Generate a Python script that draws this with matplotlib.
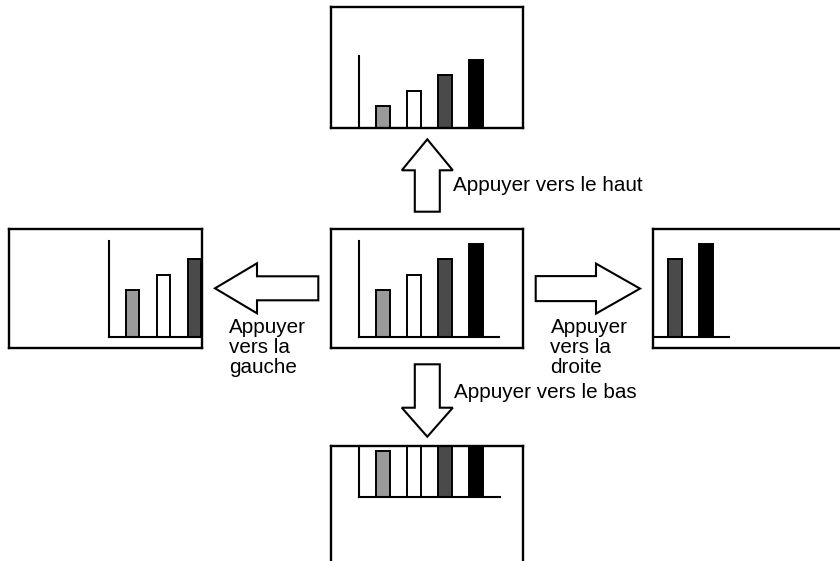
import matplotlib
matplotlib.use("Agg")
import matplotlib.pyplot as plt
from matplotlib.patches import FancyArrow

# ---- data ----
bar_pos = [1, 2, 3, 4]
bar_values = [3, 4, 5, 6]
bar_colors = ["#9a9a9a", "#ffffff", "#4a4a4a", "#000000"]
axis_top = 6.2
axis_x = [0.23, 4.75]

labels_up = "Appuyer vers le haut"
labels_down = "Appuyer vers le bas"
labels_left = ["Appuyer", "vers la", "gauche"]
labels_right = ["Appuyer", "vers la", "droite"]

W, H = 840, 561
PX_X = 31.0   # px per x unit
PX_Y = 15.5   # px per value unit

fig = plt.figure(figsize=(W / 100, H / 100), dpi=100)
canvas = fig.add_axes([0, 0, 1, 1])
canvas.set_xlim(0, W)
canvas.set_ylim(H, 0)
canvas.axis("off")


def panel(left, top, w, h, bar1x, basey, hide_right=False, hide_bottom=False):
    ax = fig.add_axes([left / W, 1 - (top + h) / H, w / W, h / H])
    ax.set_xlim(1 - (bar1x - left) / PX_X, 1 + (left + w - bar1x) / PX_X)
    ax.set_ylim(-(top + h - basey) / PX_Y, (basey - top) / PX_Y)
    ax.bar(bar_pos, bar_values, width=0.45, color=bar_colors,
           edgecolor="black", linewidth=1.4, zorder=2)
    ax.plot([axis_x[0], axis_x[0]], [0, axis_top], color="black", lw=1.5, zorder=3)
    ax.plot(axis_x, [0, 0], color="black", lw=1.5, zorder=3)
    ax.set_xticks([])
    ax.set_yticks([])
    for s in ax.spines.values():
        s.set_linewidth(1.7)
        s.set_zorder(5)
    if hide_right:
        ax.spines["right"].set_visible(False)
    if hide_bottom:
        ax.spines["bottom"].set_visible(False)
    return ax


panel(331, 229, 192, 119, 383.2, 336.7)                     # centre
panel(331, 7, 192, 121, 383.2, 152.5)                       # haut
panel(9, 229, 193, 119, 132.5, 336.7)                       # gauche
panel(653, 229, 192, 119, 612.8, 336.7, hide_right=True)    # droite
panel(331, 446, 192, 119, 383.3, 497.3, hide_bottom=True)   # bas


def arrow(x0, y0, x1, y1, shaft, head, head_len):
    canvas.add_patch(FancyArrow(x0, y0, x1 - x0, y1 - y0, width=shaft,
                                head_width=head, head_length=head_len,
                                length_includes_head=True, facecolor="white",
                                edgecolor="black", linewidth=1.5))


arrow(427.3, 211.7, 427.3, 139.3, 25, 51, 31)    # up
arrow(427.3, 364.3, 427.3, 436.7, 25, 51, 29)    # down
arrow(318.3, 288.3, 215, 288.3, 24, 50, 42)      # left
arrow(535.7, 288.6, 640, 288.6, 25, 50, 44)      # right

font = dict(family=["Liberation Sans", "DejaVu Sans"], fontsize=14.9, color="black")
canvas.text(453.3, 190.7, labels_up, va="baseline", ha="left", **font)
canvas.text(454.0, 397.7, labels_down, va="baseline", ha="left", **font)
for i, line in enumerate(labels_left):
    canvas.text(229.0, 333 + 20 * i, line, va="baseline", ha="left", **font)
for i, line in enumerate(labels_right):
    canvas.text(550.5, 333.3 + 20 * i, line, va="baseline", ha="left", **font)

fig.savefig("out.png", dpi=100)
